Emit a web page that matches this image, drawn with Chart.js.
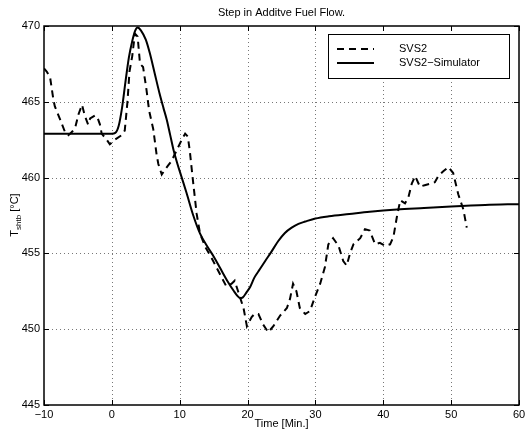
<!DOCTYPE html>
<html>
<head>
<meta charset="utf-8">
<script src="https://cdn.jsdelivr.net/npm/chart.js@4.4.1/dist/chart.umd.min.js"></script>
<style>
  html, body { margin: 0; padding: 0; background: #fff; }
  canvas { display: block; }
</style>
</head>
<body>
<canvas id="c" width="531" height="434"></canvas>
<script>
const title = "Step in Additve Fuel Flow.";
const xTitle = "Time [Min.]";
const seriesNames = ["SVS2", "SVS2\u2212Simulator"];
const xTicks = [-10, 0, 10, 20, 30, 40, 50, 60];
const yTicks = [445, 450, 455, 460, 465, 470];

// measured plant (dashed)
const svsTime = [-10, -9.6, -9.1, -8.6, -8.4, -7.6, -6.9, -6.4, -5.9, -5.4, -4.9, -4.4, -4.0, -3.5, -3.2, -2.5, -2.15, -1.75, -1.5, -0.76, -0.3, 0.46, 1.45, 1.9, 2.3, 2.6, 3.0, 3.4, 3.8, 4.15, 4.6, 5.1, 5.5, 6.1, 6.6, 6.85, 7.35, 7.8, 8.3, 8.8, 9.55, 10.3, 10.8, 11.2, 11.5, 12.0, 12.5, 13.0, 13.8, 14.7, 15.5, 16.2, 16.9, 17.65, 18.1, 18.6, 19.4, 19.9, 20.6, 21.0, 21.6, 22.3, 23.05, 23.8, 24.8, 25.8, 26.25, 26.7, 27.2, 27.7, 28.5, 29.2, 29.9, 30.7, 31.4, 31.9, 32.6, 33.4, 34.1, 34.6, 35.1, 35.6, 36.6, 37.3, 38.0, 38.8, 39.5, 40.25, 41.0, 41.5, 42.0, 42.5, 43.2, 43.7, 44.2, 44.7, 45.4, 46.1, 46.9, 47.6, 48.1, 48.8, 49.6, 50.3, 51.05, 51.8, 52.3];
const svsTemp = [467.2, 467.0, 466.6, 465.1, 464.7, 463.8, 463.0, 462.8, 463.0, 463.3, 464.2, 464.8, 464.1, 463.5, 463.9, 464.1, 464.0, 463.5, 462.9, 462.5, 462.2, 462.5, 462.8, 463.1, 465.0, 467.0, 468.0, 469.5, 469.3, 467.5, 467.3, 465.8, 464.4, 463.2, 461.5, 460.9, 460.2, 460.5, 460.8, 461.1, 461.8, 462.5, 462.9, 462.7, 461.7, 459.6, 457.6, 456.3, 455.4, 454.7, 454.0, 453.4, 452.8, 453.0, 453.2, 452.5, 451.4, 450.2, 450.8, 451.0, 451.0, 450.3, 449.8, 450.2, 450.9, 451.4, 452.0, 453.0, 452.5, 451.4, 451.0, 451.2, 452.1, 453.0, 454.1, 455.6, 456.0, 455.5, 454.5, 454.2, 455.0, 455.6, 456.0, 456.6, 456.5, 455.6, 455.7, 455.5, 455.6, 456.1, 457.4, 458.5, 458.3, 458.7, 459.6, 460.1, 459.4, 459.5, 459.6, 459.7, 460.1, 460.4, 460.7, 460.3, 458.9, 457.9, 456.7];

// simulator (solid)
const simTime = [-10, -5, 0, 0.5, 1, 1.5, 2, 2.5, 3, 3.4, 3.8, 4.3, 5, 5.6, 6.3, 7, 7.6, 8.1, 8.6, 9.1, 9.6, 10.3, 11, 12, 13, 14, 15, 16, 17, 18, 18.5, 18.9, 19.3, 19.8, 20.4, 21, 21.8, 22.6, 23.5, 24.5, 25.5, 26.5, 27.5, 28.5, 30, 32, 35, 38, 42, 46, 50, 55, 60];
const simTemp = [462.9, 462.9, 462.9, 462.95, 463.4, 464.6, 466.3, 467.9, 469.0, 469.65, 469.9, 469.7, 469.1, 468.2, 466.9, 465.6, 464.6, 463.8, 462.8, 461.8, 461.0, 460.0, 459.0, 457.5, 456.3, 455.5, 454.8, 454.0, 453.2, 452.5, 452.2, 452.05, 452.1, 452.4, 452.8, 453.4, 453.95, 454.5, 455.1, 455.8, 456.35, 456.7, 456.95, 457.1, 457.3, 457.45, 457.6, 457.75, 457.9, 458.0, 458.1, 458.2, 458.25];

const FONT = '"Liberation Sans", Arial, sans-serif';
const DASH = [7, 5];

const toPoints = (xs, ys) => xs.map((x, i) => ({ x, y: ys[i] }));

const matlabAxes = {
  id: "matlabAxes",
  beforeDatasetsDraw(chart) {
    const { ctx, chartArea: a, scales } = chart;
    ctx.save();
    ctx.strokeStyle = "#777";
    ctx.lineWidth = 1;
    ctx.setLineDash([1, 3]);
    xTicks.slice(1, -1).forEach(v => {
      const x = Math.round(scales.x.getPixelForValue(v)) + 0.5;
      ctx.beginPath(); ctx.moveTo(x, a.top); ctx.lineTo(x, a.bottom); ctx.stroke();
    });
    yTicks.slice(1, -1).forEach(v => {
      const y = Math.round(scales.y.getPixelForValue(v)) + 0.5;
      ctx.beginPath(); ctx.moveTo(a.left, y); ctx.lineTo(a.right, y); ctx.stroke();
    });
    ctx.restore();
  },
  afterDatasetsDraw(chart) {
    const { ctx, chartArea: a, scales } = chart;
    ctx.save();
    ctx.strokeStyle = "#000";
    ctx.lineWidth = 1;
    ctx.setLineDash([]);
    // inward ticks on all four sides
    const tl = 5;
    xTicks.forEach(v => {
      const x = Math.round(scales.x.getPixelForValue(v)) + 0.5;
      ctx.beginPath();
      ctx.moveTo(x, a.bottom); ctx.lineTo(x, a.bottom - tl);
      ctx.moveTo(x, a.top); ctx.lineTo(x, a.top + tl);
      ctx.stroke();
    });
    yTicks.forEach(v => {
      const y = Math.round(scales.y.getPixelForValue(v)) + 0.5;
      ctx.beginPath();
      ctx.moveTo(a.left, y); ctx.lineTo(a.left + tl, y);
      ctx.moveTo(a.right, y); ctx.lineTo(a.right - tl, y);
      ctx.stroke();
    });
    ctx.lineWidth = 1.5;
    ctx.strokeRect(a.left, a.top, a.right - a.left, a.bottom - a.top);

    // legend
    const bx = 328.5, by = 34.5, bw = 181, bh = 44;
    ctx.fillStyle = "#fff";
    ctx.fillRect(bx, by, bw, bh);
    ctx.lineWidth = 1;
    ctx.strokeRect(bx, by, bw, bh);
    ctx.lineWidth = 2;
    ctx.setLineDash(DASH);
    ctx.beginPath(); ctx.moveTo(337, 49); ctx.lineTo(374, 49); ctx.stroke();
    ctx.setLineDash([]);
    ctx.beginPath(); ctx.moveTo(337, 63); ctx.lineTo(374, 63); ctx.stroke();
    ctx.fillStyle = "#000";
    ctx.font = "11px " + FONT;
    ctx.textAlign = "left";
    ctx.textBaseline = "middle";
    ctx.fillText(seriesNames[0], 399, 49);
    ctx.fillText(seriesNames[1], 399, 63);

    // titles
    ctx.textAlign = "center";
    ctx.fillText(title, (a.left + a.right) / 2, 13);
    ctx.fillText(xTitle, (a.left + a.right) / 2, 424);

    // y label: T_shtb [°C], rotated
    ctx.translate(15, 215);
    ctx.rotate(-Math.PI / 2);
    ctx.textAlign = "left";
    ctx.textBaseline = "middle";
    const big = "11px " + FONT, small = "8px " + FONT;
    ctx.font = big; const wT = ctx.measureText("T").width;
    ctx.font = small; const wS = ctx.measureText("shtb").width;
    ctx.font = big; const wU = ctx.measureText(" [\u00b0C]").width;
    let x0 = -(wT + wS + wU) / 2;
    ctx.font = big; ctx.fillText("T", x0, 0);
    ctx.font = small; ctx.fillText("shtb", x0 + wT, 4);
    ctx.font = big; ctx.fillText(" [\u00b0C]", x0 + wT + wS, 0);
    ctx.restore();
  }
};

new Chart(document.getElementById("c"), {
  type: "line",
  data: {
    datasets: [
      {
        label: seriesNames[0],
        data: toPoints(svsTime, svsTemp),
        borderColor: "#000",
        borderWidth: 2,
        borderDash: DASH,
        pointRadius: 0,
        tension: 0,
        fill: false
      },
      {
        label: seriesNames[1],
        data: toPoints(simTime, simTemp),
        borderColor: "#000",
        borderWidth: 2,
        pointRadius: 0,
        cubicInterpolationMode: "monotone",
        fill: false
      }
    ]
  },
  options: {
    responsive: false,
    animation: false,
    events: [],
    layout: { padding: { left: 0, right: 12, top: 26, bottom: 0 } },
    plugins: {
      legend: { display: false },
      title: { display: false },
      tooltip: { enabled: false }
    },
    scales: {
      x: {
        type: "linear",
        min: -10,
        max: 60,
        afterBuildTicks: s => { s.ticks = xTicks.map(v => ({ value: v })); },
        afterFit: s => { s.height = 29; },
        grid: { display: false, drawTicks: false },
        border: { display: false },
        ticks: {
          color: "#000",
          font: { family: FONT, size: 11 },
          padding: 3,
          maxRotation: 0,
          callback: v => String(v).replace("-", "\u2212")
        }
      },
      y: {
        min: 445,
        max: 470,
        afterBuildTicks: s => { s.ticks = yTicks.map(v => ({ value: v })); },
        afterFit: s => { s.width = 44; },
        grid: { display: false, drawTicks: false },
        border: { display: false },
        ticks: {
          color: "#000",
          font: { family: FONT, size: 11 },
          padding: 4
        }
      }
    }
  },
  plugins: [matlabAxes]
});
</script>
</body>
</html>
